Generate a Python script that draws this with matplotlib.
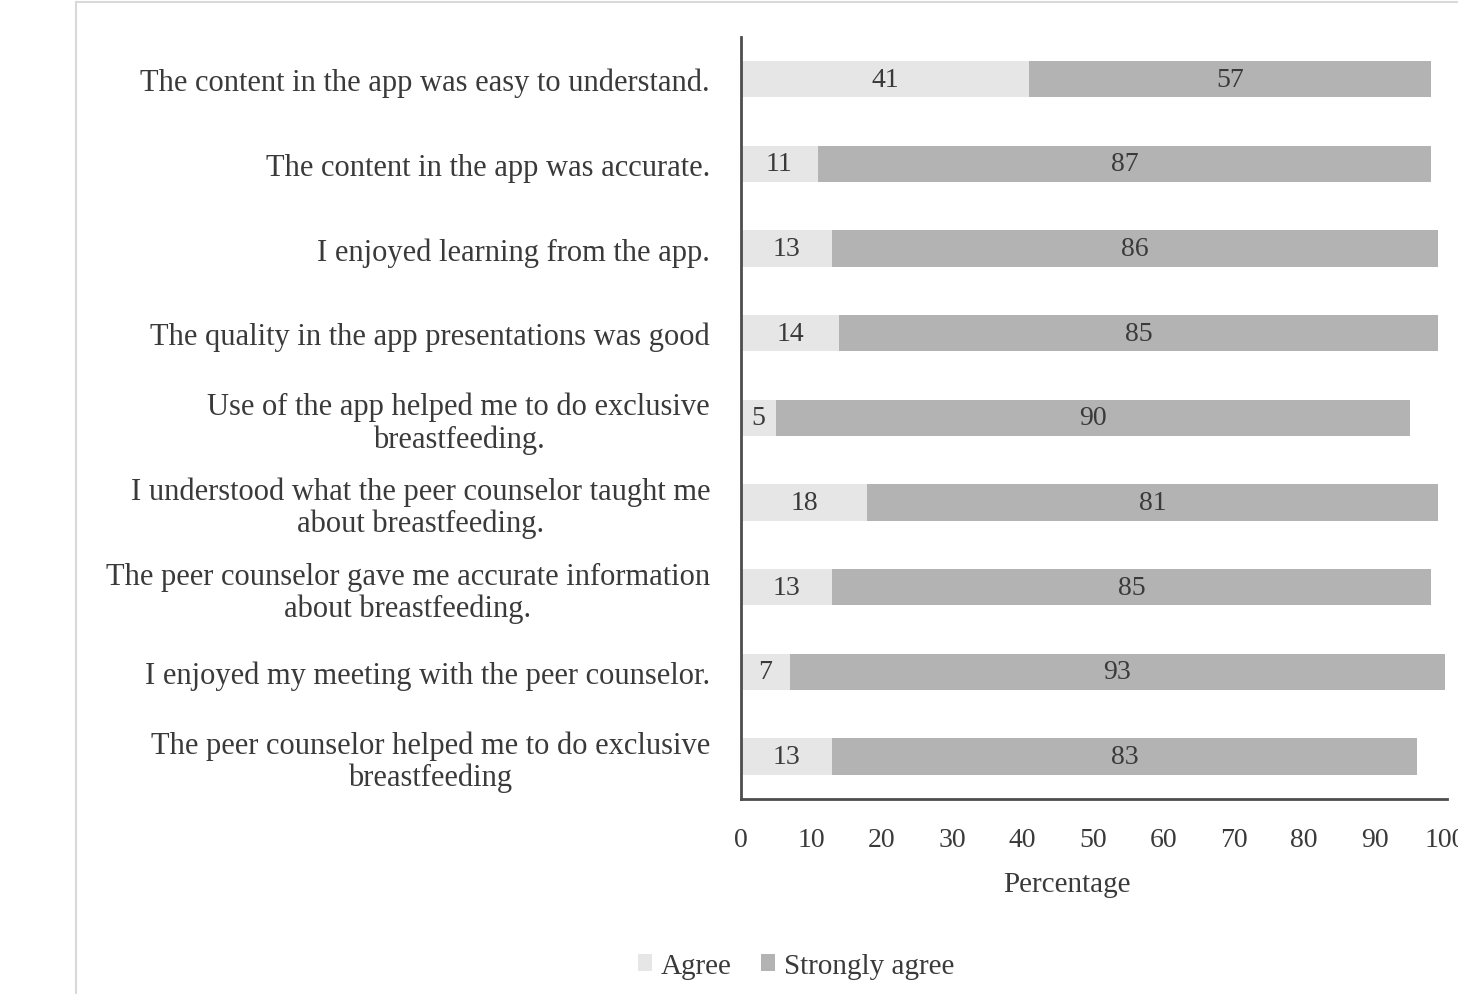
import matplotlib
matplotlib.use('Agg')
import matplotlib.pyplot as plt
import numpy as np
from matplotlib.lines import Line2D

# survey statements, top to bottom
statements = [
    'The content in the app was easy to understand.',
    'The content in the app was accurate.',
    'I enjoyed learning from the app.',
    'The quality in the app presentations was good',
    'Use of the app helped me to do exclusive\nbreastfeeding.',
    'I understood what the peer counselor taught me\nabout breastfeeding.',
    'The peer counselor gave me accurate information\nabout breastfeeding.',
    'I enjoyed my meeting with the peer counselor.',
    'The peer counselor helped me to do exclusive\nbreastfeeding',
]
agree = [41, 11, 13, 14, 5, 18, 13, 7, 13]
strongly_agree = [57, 87, 86, 85, 90, 81, 85, 93, 83]
x_ticks = [0, 10, 20, 30, 40, 50, 60, 70, 80, 90, 100]

agree_color = '#e6e6e6'
strong_color = '#b3b3b3'
text_color = '#3a3a3a'

plt.rcParams['font.family'] = ['Liberation Serif', 'DejaVu Serif']

fig = plt.figure(figsize=(14.58, 9.95), dpi=100)
ax = fig.add_axes([0.508, 0.196, 0.483, 0.766])

y = np.arange(len(statements))
bars1 = ax.barh(y, agree, height=0.43, color=agree_color, label='Agree')
bars2 = ax.barh(y, strongly_agree, left=agree, height=0.43, color=strong_color,
                label='Strongly agree')

ax.bar_label(bars1, labels=[str(v) for v in agree], label_type='center',
             fontsize=20, color=text_color)
ax.bar_label(bars2, labels=[str(v) for v in strongly_agree], label_type='center',
             fontsize=20, color=text_color)

ax.set_ylim(len(statements) - 0.5, -0.5)
ax.set_xlim(0, 100)
ax.set_yticks(y)
ax.set_yticklabels(statements, fontsize=22, color=text_color, multialignment='center',
                   linespacing=1.12)
ax.set_xticks(x_ticks)
ax.set_xticklabels([str(t) for t in x_ticks], fontsize=20, color=text_color)
ax.tick_params(axis='y', length=0, pad=22)
ax.tick_params(axis='x', length=0, pad=20)

for side in ['top', 'right']:
    ax.spines[side].set_visible(False)
for side in ['left', 'bottom']:
    ax.spines[side].set_color('#4d4d4d')
    ax.spines[side].set_linewidth(2)
ax.spines['bottom'].set_bounds(0, 100.3)

ax.set_xlabel('Percentage', fontsize=21, color=text_color)
ax.xaxis.set_label_coords(0.463, -0.094)

fig.legend(handles=[bars1, bars2], loc='center', bbox_to_anchor=(0.546, 0.028),
           ncol=2, frameon=False, fontsize=21, handlelength=0.5, handleheight=0.5,
           handletextpad=0.3, columnspacing=1.0, labelcolor=text_color)

# page frame lines
fig.add_artist(Line2D([0.052, 0.052], [0, 0.997], transform=fig.transFigure,
                      color='#d9d9d9', linewidth=1.5))
fig.add_artist(Line2D([0.052, 1], [0.997, 0.997], transform=fig.transFigure,
                      color='#d9d9d9', linewidth=1.5))

fig.savefig('out.png', dpi=100)
